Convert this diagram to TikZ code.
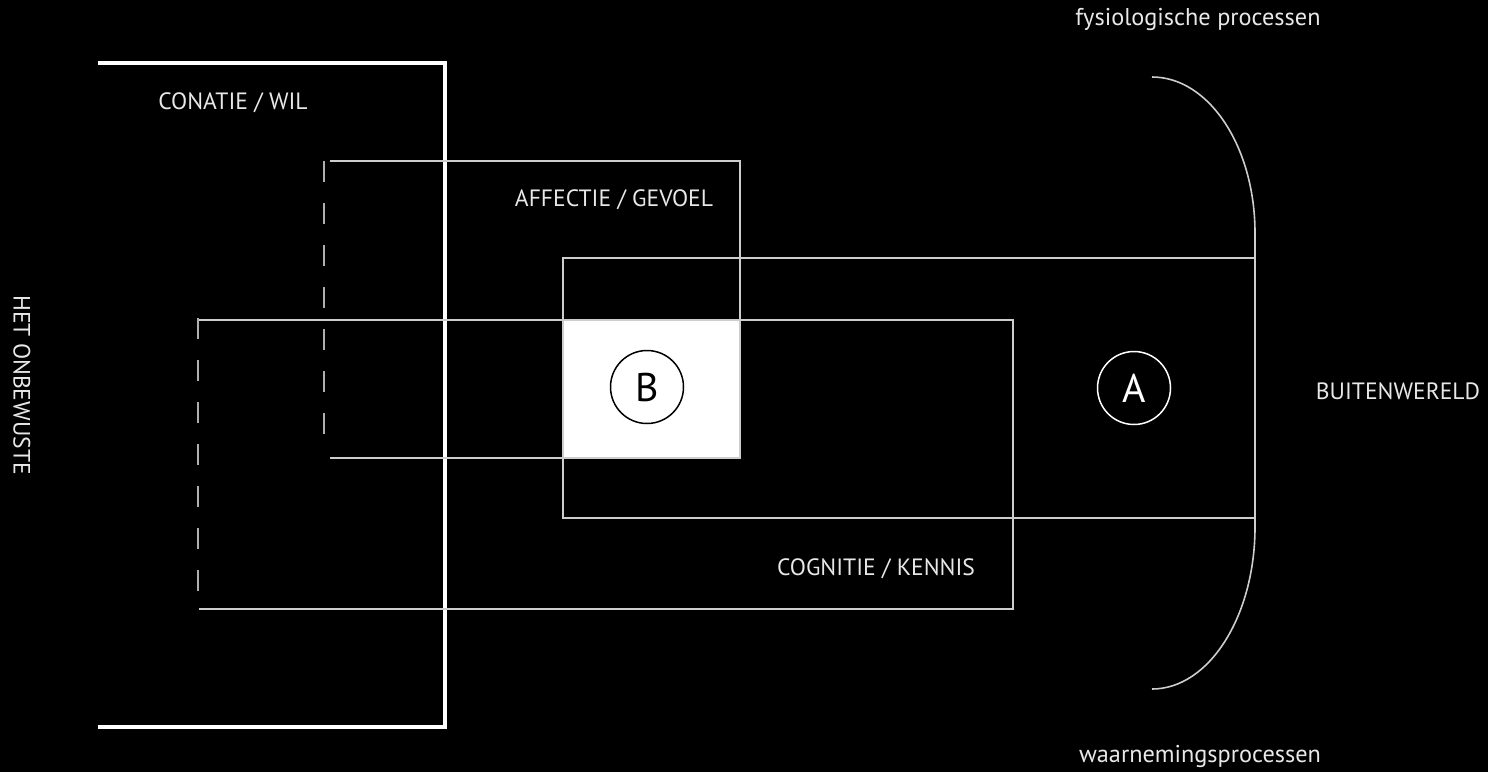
\documentclass[tikz,border=0pt]{standalone}
\usepackage{fontspec}
\setmainfont{PT Sans}
\begin{document}
\begin{tikzpicture}[x=1pt,y=-1pt,
  thinline/.style={draw=linegray,line width=2pt},
  dashline/.style={draw=dashgray,line width=2pt,dash pattern=on 21pt off 21pt},
  thickline/.style={draw=white,line width=4pt},
  lbl/.style={text=textgray,font=\fontsize{23.6}{27}\selectfont,inner sep=0pt},
  lbls/.style={text=textgray,font=\fontsize{24.3}{28}\selectfont,inner sep=0pt},
  circ/.style={circle,minimum size=73pt,inner sep=0pt,line width=1.5pt,font=\fontsize{40}{44}\selectfont}
]
\definecolor{linegray}{RGB}{205,205,205}
\definecolor{dashgray}{RGB}{175,175,175}
\definecolor{textgray}{RGB}{232,232,232}
\useasboundingbox (0,0) rectangle (1488,772);
\fill[black] (0,0) rectangle (1488,772);

% white box B
\fill[white] (563,320) rectangle (740,458);

% conatie bracket
\draw[thickline] (98,63) -- (445,63) -- (445,727) -- (98,727);

% affectie box
\draw[thinline] (330,161) -- (740,161) -- (740,458) -- (330,458);
\draw[dashline] (324,161) -- (324,440);

% cognitie box
\draw[thinline] (199,320) -- (1013,320) -- (1013,609) -- (199,609);
\draw[dashline] (198,318) -- (198,595);

% A region
\draw[thinline] (1255,258) -- (563,258) -- (563,518) -- (1255,518);

% buitenwereld bracket
\draw[thinline,line width=1.6pt] (1152,77) .. controls (1209,77) and (1255,147) .. (1255,233)
  -- (1255,527) .. controls (1255,616) and (1209,689) .. (1152,689);

% circles
\node[circ,draw=black,text=black] (B) at (647,387) {B};
\node[circ,draw=white,text=white] (A) at (1134,388) {A};

% labels
\node[lbl] (conatie) at (233,103) {CONATIE / WIL};
\node[lbl] (affectie) at (614,200) {AFFECTIE / GEVOEL};
\node[lbl] (cognitie) at (876,569) {COGNITIE / KENNIS};
\node[lbl] (buiten) at (1398,391) {BUITENWERELD};
\node[lbls,anchor=base] (fysio) at (1198,25) {fysiologische processen};
\node[lbls,anchor=base] (waarn) at (1200,762) {waarnemingsprocessen};
\node[lbl,rotate=-90] (onbewust) at (22,385) {HET ONBEWUSTE};
\end{tikzpicture}
\end{document}
